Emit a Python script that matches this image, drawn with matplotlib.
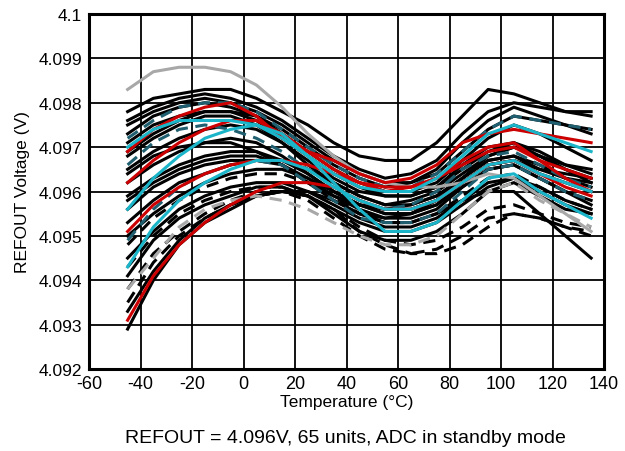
import matplotlib
matplotlib.use("Agg")
import matplotlib.pyplot as plt

plt.rcParams['font.family'] = ['Liberation Sans', 'DejaVu Sans']

# temperature sweep (degC)
temps = [-45, -35, -25, -15, -5, 5, 15, 25, 35, 45, 55, 65, 75, 85, 95, 105, 115, 125, 135]

# REFOUT voltage per unit (V)
gray_solid = [4.0983, 4.0987, 4.0988, 4.0988, 4.0987, 4.0984, 4.0979, 4.0973, 4.0968, 4.0964, 4.0962, 4.0961, 4.0961, 4.0962, 4.0964, 4.0963, 4.0959, 4.0955, 4.0951]
gray_dash = [4.0938, 4.0945, 4.0952, 4.0956, 4.0958, 4.0959, 4.0958, 4.0956, 4.0953, 4.0950, 4.0948, 4.0948, 4.0950, 4.0955, 4.0960, 4.0962, 4.0958, 4.0955, 4.0952]

red_units = [
    [4.0969, 4.0974, 4.0977, 4.0979, 4.0980, 4.0977, 4.0972, 4.0969, 4.0967, 4.0964, 4.0962, 4.0963, 4.0966, 4.0971, 4.0973, 4.0974, 4.0973, 4.0972, 4.0971],
    [4.0962, 4.0967, 4.0971, 4.0974, 4.0976, 4.0976, 4.0973, 4.0969, 4.0965, 4.0962, 4.0960, 4.0961, 4.0963, 4.0967, 4.0970, 4.0971, 4.0967, 4.0963, 4.0960],
    [4.0951, 4.0957, 4.0961, 4.0964, 4.0966, 4.0967, 4.0967, 4.0966, 4.0964, 4.0962, 4.0961, 4.0961, 4.0963, 4.0966, 4.0969, 4.0970, 4.0967, 4.0965, 4.0963],
    [4.0931, 4.0941, 4.0948, 4.0953, 4.0957, 4.0960, 4.0962, 4.0962, 4.0961, 4.0958, 4.0956, 4.0956, 4.0958, 4.0962, 4.0966, 4.0967, 4.0964, 4.0961, 4.0959],
]

cyan_units = [
    [4.0970, 4.0974, 4.0976, 4.0976, 4.0976, 4.0975, 4.0972, 4.0968, 4.0964, 4.0961, 4.0960, 4.0960, 4.0963, 4.0968, 4.0973, 4.0975, 4.0973, 4.0971, 4.0969],
    [4.0956, 4.0963, 4.0968, 4.0972, 4.0974, 4.0975, 4.0973, 4.0968, 4.0962, 4.0956, 4.0951, 4.0951, 4.0953, 4.0958, 4.0963, 4.0964, 4.0960, 4.0957, 4.0954],
    [4.0943, 4.0952, 4.0958, 4.0962, 4.0965, 4.0967, 4.0967, 4.0965, 4.0961, 4.0958, 4.0956, 4.0956, 4.0958, 4.0962, 4.0966, 4.0967, 4.0964, 4.0962, 4.0960],
]

teal_units = [
    [4.0972, 4.0976, 4.0979, 4.0980, 4.0980, 4.0978, 4.0974, 4.0970, 4.0966, 4.0963, 4.0961, 4.0961, 4.0964, 4.0969, 4.0974, 4.0977, 4.0976, 4.0975, 4.0974],
    [4.0949, 4.0956, 4.0961, 4.0964, 4.0966, 4.0967, 4.0966, 4.0962, 4.0958, 4.0954, 4.0953, 4.0953, 4.0955, 4.0960, 4.0965, 4.0966, 4.0963, 4.0960, 4.0958],
    [4.0966, 4.0971, 4.0974, 4.0975, 4.0974, 4.0972, 4.0969, 4.0965, 4.0961, 4.0958, 4.0956, 4.0957, 4.0960, 4.0965, 4.0968, 4.0969, 4.0966, 4.0963, 4.0961],
]

black_units = [
    [4.0978, 4.0981, 4.0982, 4.0983, 4.0983, 4.0981, 4.0978, 4.0975, 4.0971, 4.0968, 4.0967, 4.0967, 4.0971, 4.0977, 4.0983, 4.0982, 4.0980, 4.0978, 4.0978],
    [4.0976, 4.0979, 4.0981, 4.0982, 4.0981, 4.0979, 4.0976, 4.0972, 4.0968, 4.0965, 4.0963, 4.0964, 4.0967, 4.0973, 4.0978, 4.0980, 4.0979, 4.0978, 4.0977],
    [4.0975, 4.0978, 4.0980, 4.0981, 4.0980, 4.0978, 4.0975, 4.0971, 4.0967, 4.0964, 4.0962, 4.0962, 4.0965, 4.0971, 4.0976, 4.0979, 4.0977, 4.0975, 4.0973],
    [4.0973, 4.0977, 4.0979, 4.0980, 4.0979, 4.0977, 4.0973, 4.0969, 4.0965, 4.0962, 4.0960, 4.0960, 4.0962, 4.0967, 4.0972, 4.0975, 4.0973, 4.0970, 4.0967],
    [4.0971, 4.0975, 4.0977, 4.0978, 4.0978, 4.0976, 4.0972, 4.0968, 4.0964, 4.0961, 4.0959, 4.0959, 4.0961, 4.0965, 4.0969, 4.0971, 4.0969, 4.0966, 4.0965],
    [4.0968, 4.0972, 4.0975, 4.0977, 4.0977, 4.0975, 4.0971, 4.0967, 4.0963, 4.0960, 4.0959, 4.0959, 4.0961, 4.0966, 4.0970, 4.0971, 4.0968, 4.0965, 4.0963],
    [4.0965, 4.0969, 4.0972, 4.0974, 4.0975, 4.0974, 4.0971, 4.0966, 4.0962, 4.0959, 4.0957, 4.0958, 4.0960, 4.0964, 4.0968, 4.0970, 4.0968, 4.0965, 4.0962],
    [4.0962, 4.0966, 4.0969, 4.0971, 4.0972, 4.0971, 4.0968, 4.0964, 4.0960, 4.0957, 4.0956, 4.0957, 4.0959, 4.0963, 4.0967, 4.0968, 4.0966, 4.0963, 4.0961],
    [4.0959, 4.0963, 4.0966, 4.0968, 4.0969, 4.0969, 4.0967, 4.0964, 4.0960, 4.0957, 4.0955, 4.0955, 4.0957, 4.0962, 4.0966, 4.0967, 4.0964, 4.0962, 4.0960],
    [4.0956, 4.0961, 4.0964, 4.0966, 4.0967, 4.0967, 4.0966, 4.0963, 4.0959, 4.0956, 4.0954, 4.0954, 4.0956, 4.0961, 4.0965, 4.0966, 4.0963, 4.0960, 4.0958],
    [4.0953, 4.0958, 4.0962, 4.0964, 4.0966, 4.0967, 4.0967, 4.0965, 4.0962, 4.0959, 4.0957, 4.0957, 4.0959, 4.0963, 4.0967, 4.0968, 4.0965, 4.0963, 4.0962],
    [4.0945, 4.0951, 4.0956, 4.0959, 4.0961, 4.0962, 4.0962, 4.0960, 4.0957, 4.0954, 4.0952, 4.0952, 4.0954, 4.0958, 4.0962, 4.0963, 4.0960, 4.0957, 4.0955],
    [4.0929, 4.0940, 4.0948, 4.0953, 4.0956, 4.0959, 4.0960, 4.0960, 4.0958, 4.0955, 4.0953, 4.0953, 4.0955, 4.0958, 4.0960, 4.0960, 4.0955, 4.0950, 4.0945],
    [4.0941, 4.0949, 4.0954, 4.0957, 4.0959, 4.0961, 4.0961, 4.0959, 4.0955, 4.0951, 4.0949, 4.0949, 4.0951, 4.0955, 4.0960, 4.0962, 4.0959, 4.0956, 4.0955],
    [4.0964, 4.0968, 4.0970, 4.0971, 4.0971, 4.0969, 4.0966, 4.0962, 4.0959, 4.0957, 4.0956, 4.0956, 4.0958, 4.0962, 4.0966, 4.0967, 4.0965, 4.0964, 4.0963],
    [4.0969, 4.0973, 4.0976, 4.0978, 4.0978, 4.0977, 4.0974, 4.0970, 4.0966, 4.0963, 4.0961, 4.0962, 4.0964, 4.0969, 4.0974, 4.0977, 4.0976, 4.0975, 4.0974],
    [4.0958, 4.0962, 4.0965, 4.0967, 4.0968, 4.0968, 4.0966, 4.0962, 4.0958, 4.0955, 4.0954, 4.0955, 4.0958, 4.0963, 4.0968, 4.0970, 4.0968, 4.0966, 4.0964],
    [4.0950, 4.0955, 4.0959, 4.0962, 4.0964, 4.0965, 4.0965, 4.0963, 4.0960, 4.0957, 4.0955, 4.0955, 4.0957, 4.0961, 4.0965, 4.0966, 4.0963, 4.0960, 4.0957],
    [4.0933, 4.0942, 4.0949, 4.0954, 4.0957, 4.0959, 4.0960, 4.0959, 4.0956, 4.0953, 4.0951, 4.0951, 4.0953, 4.0957, 4.0961, 4.0963, 4.0961, 4.0958, 4.0956],
]

black_dash_units = [
    [4.0948, 4.0954, 4.0958, 4.0961, 4.0963, 4.0964, 4.0964, 4.0962, 4.0959, 4.0955, 4.0953, 4.0953, 4.0955, 4.0959, 4.0963, 4.0964, 4.0961, 4.0958, 4.0956],
    [4.0938, 4.0946, 4.0951, 4.0955, 4.0958, 4.0960, 4.0960, 4.0958, 4.0954, 4.0950, 4.0947, 4.0946, 4.0947, 4.0950, 4.0954, 4.0955, 4.0954, 4.0952, 4.0950],
    [4.0935, 4.0944, 4.0950, 4.0954, 4.0957, 4.0959, 4.0960, 4.0959, 4.0956, 4.0951, 4.0948, 4.0946, 4.0946, 4.0948, 4.0952, 4.0955, 4.0954, 4.0952, 4.0951],
    [4.0943, 4.0950, 4.0955, 4.0958, 4.0960, 4.0961, 4.0961, 4.0959, 4.0956, 4.0952, 4.0949, 4.0948, 4.0949, 4.0952, 4.0956, 4.0957, 4.0955, 4.0953, 4.0952],
]

xticks = list(range(-60, 141, 20))
yticks = [4.092, 4.093, 4.094, 4.095, 4.096, 4.097, 4.098, 4.099, 4.1]
ytick_labels = ['4.092', '4.093', '4.094', '4.095', '4.096', '4.097', '4.098', '4.099', '4.1']

RED = '#cc0000'
CYAN = '#1ab5c8'
TEAL = '#1f5f70'
GRAY = '#a8a8a8'
DASH = (0, (4, 2.5))
LW = 2.2

fig = plt.figure(figsize=(6.25, 4.52), dpi=100)
ax = fig.add_axes([0.1424, 0.1814, 0.824, 0.7854])

for v in black_units:
    ax.plot(temps, v, color='black', lw=LW)
for v in black_dash_units:
    ax.plot(temps, v, color='black', lw=LW, ls=DASH)
for v in teal_units:
    ax.plot(temps, v, color=TEAL, lw=LW, ls=DASH)
ax.plot(temps, gray_dash, color=GRAY, lw=LW, ls=DASH)
ax.plot(temps, gray_solid, color=GRAY, lw=LW)
for v in red_units:
    ax.plot(temps, v, color=RED, lw=LW)
for v in cyan_units:
    ax.plot(temps, v, color=CYAN, lw=LW)

ax.set_xlim(-60, 140)
ax.set_ylim(4.092, 4.1)
ax.set_xticks(xticks)
ax.set_xticklabels([str(t) for t in xticks])
ax.set_yticks(yticks)
ax.set_yticklabels(ytick_labels)
ax.tick_params(axis='x', length=0, labelsize=13, pad=4, colors='black')
ax.tick_params(axis='y', length=0, labelsize=12.5, pad=5, colors='black')
ax.grid(True, color='black', lw=1.3)
ax.set_axisbelow(True)
for s in ax.spines.values():
    s.set_linewidth(2.2)

ax.set_xlabel('Temperature (°C)', fontsize=12.5, labelpad=2)
ax.set_ylabel('REFOUT Voltage (V)', fontsize=12.5, labelpad=6)
fig.text(0.552, 0.012, 'REFOUT = 4.096V, 65 units, ADC in standby mode',
         ha='center', va='bottom', fontsize=14)

fig.savefig('out.png', dpi=100)
